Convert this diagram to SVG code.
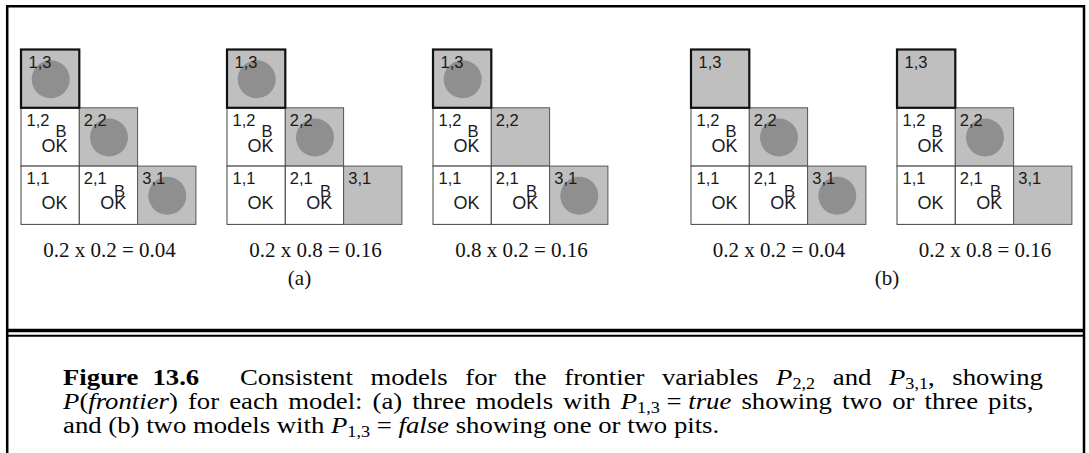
<svg xmlns="http://www.w3.org/2000/svg" width="1089" height="453" viewBox="0 0 1089 453">
<style>
.w{fill:#ffffff;stroke:#444;stroke-width:1}
.g{fill:#bfbfbf;stroke:#555;stroke-width:1}
.t{fill:#bfbfbf;stroke:#111;stroke-width:2.2}
.pit{fill:#8f8f8f}
.lbl{font-family:"Liberation Sans",Arial,sans-serif;font-size:16.5px;fill:#1a1a1a}
.ok{font-size:18px}
.prob{font-family:"Liberation Serif","Times New Roman",serif;font-size:21px;text-anchor:middle;fill:#111}
.cap{font-family:"Liberation Serif","Times New Roman",serif;font-size:23.5px;fill:#000}
.it{font-style:italic}
.sub{font-size:16px}
</style>
<defs>
<g id="grid">
<rect class="w" x="0" y="107.8" width="58.3" height="58.3"/>
<rect class="g" x="58.3" y="107.8" width="58.3" height="58.3"/>
<rect class="w" x="0" y="166.1" width="58.3" height="58.3"/>
<rect class="w" x="58.3" y="166.1" width="58.3" height="58.3"/>
<rect class="g" x="116.6" y="166.1" width="58.3" height="58.3"/>
<rect class="t" x="0" y="49.5" width="58.3" height="58.3"/>
</g>
<circle id="p13" class="pit" cx="29.7" cy="79.2" r="19"/>
<circle id="p22" class="pit" cx="88" cy="137.5" r="19"/>
<circle id="p31" class="pit" cx="146.3" cy="195.8" r="19"/>
<g id="labels" class="lbl">
<text x="7.5" y="67.5">1,3</text>
<text x="5.5" y="125.5">1,2</text>
<text x="34.5" y="136.5">B</text>
<text class="ok" x="20.5" y="151.5">OK</text>
<text x="62.8" y="125.5">2,2</text>
<text x="5.5" y="183.5">1,1</text>
<text class="ok" x="20.5" y="208.5">OK</text>
<text x="62.8" y="183.5">2,1</text>
<text x="93" y="196.5">B</text>
<text class="ok" x="79.3" y="208.5">OK</text>
<text x="121.3" y="183.5">3,1</text>
</g>
</defs>

<g id="frame" fill="none" stroke="#000">
<path d="M7.2 460 V6.2 H1084 V460" stroke-width="2.5"/>
<line x1="7" y1="330.5" x2="1084" y2="330.5" stroke-width="3.5"/>
<line x1="7" y1="335.8" x2="1084" y2="335.8" stroke-width="2"/>
</g>

<g id="panel-a1" transform="translate(21,0)">
<use href="#grid"/><use href="#p13"/><use href="#p22"/><use href="#p31"/><use href="#labels"/>
<text class="prob" x="88.5" y="257">0.2 x 0.2 = 0.04</text>
</g>
<g id="panel-a2" transform="translate(227,0)">
<use href="#grid"/><use href="#p13"/><use href="#p22"/><use href="#labels"/>
<text class="prob" x="88.5" y="257">0.2 x 0.8 = 0.16</text>
</g>
<g id="panel-a3" transform="translate(433,0)">
<use href="#grid"/><use href="#p13"/><use href="#p31"/><use href="#labels"/>
<text class="prob" x="88.5" y="257">0.8 x 0.2 = 0.16</text>
</g>
<g id="panel-b1" transform="translate(691,0)">
<use href="#grid"/><use href="#p22"/><use href="#p31"/><use href="#labels"/>
<text class="prob" x="88" y="257">0.2 x 0.2 = 0.04</text>
</g>
<g id="panel-b2" transform="translate(897,0)">
<use href="#grid"/><use href="#p22"/><use href="#labels"/>
<text class="prob" x="88" y="257">0.2 x 0.8 = 0.16</text>
</g>
<text id="label-a" class="prob" x="299.5" y="285">(a)</text>
<text id="label-b" class="prob" x="887" y="285">(b)</text>

<g id="caption" class="cap" transform="scale(1.138 1)">
<text x="55.4" y="385" font-weight="bold" word-spacing="6.6">Figure 13.6</text>
<text x="210.9" y="385" word-spacing="9.6">Consistent models for the frontier variables <tspan class="it">P</tspan><tspan class="sub" dy="4">2,2</tspan><tspan dy="-4"> and </tspan><tspan class="it">P</tspan><tspan class="sub" dy="4">3,1</tspan><tspan dy="-4">, showing</tspan></text>
<text x="55.4" y="409" word-spacing="3"><tspan class="it">P</tspan>(<tspan class="it">frontier</tspan>) for each model: (a) three models with <tspan class="it">P</tspan><tspan class="sub" dy="4">1,3</tspan><tspan dy="-4">&#x2005;=&#x2005;</tspan><tspan class="it">true</tspan> showing two or three pits,</text>
<text x="55.4" y="433">and (b) two models with <tspan class="it">P</tspan><tspan class="sub" dy="4">1,3</tspan><tspan dy="-4">&#x2005;=&#x2005;</tspan><tspan class="it">false</tspan> showing one or two pits.</text>
</g>
</svg>
